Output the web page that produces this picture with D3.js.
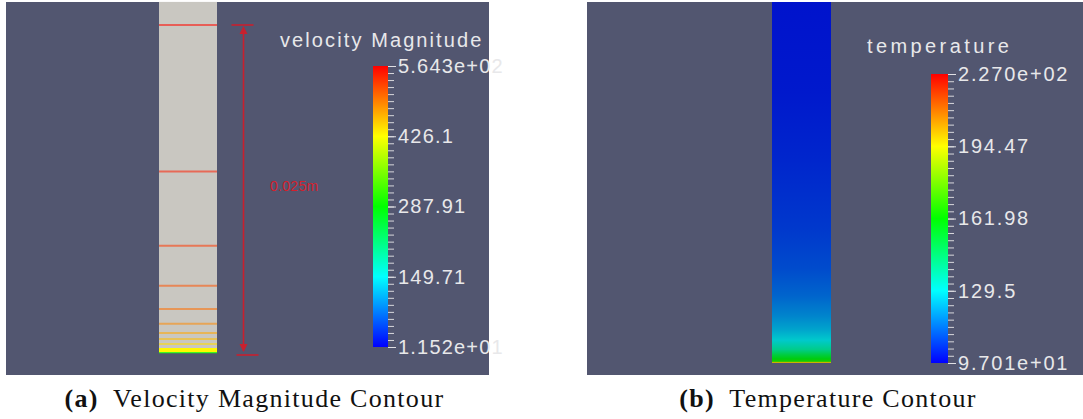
<!DOCTYPE html>
<html>
<head>
<meta charset="utf-8">
<script src="https://cdn.jsdelivr.net/npm/d3@7"></script>
<style>
  body { margin: 0; background: #ffffff; }
  svg { display: block; }
</style>
</head>
<body>
<svg id="fig" width="1083" height="419"></svg>
<script>
// ---------- velocity panel ----------
const velTitle = "velocity Magnitude";
const velRange = [11.52, 564.3];
const velTickValues = [564.3, 426.1, 287.91, 149.71, 11.52];
const velTickLabels = ["5.643e+02", "426.1", "287.91", "149.71", "1.152e+01"];

// iso-velocity contour lines: height above the outlet (m) and level (m/s)
const contourHeights = [0.025, 0.01384, 0.00818, 0.00512, 0.00336, 0.00222, 0.00153, 0.00107, 0.00069];
const contourLevels  = [560, 548, 535, 520, 505, 490, 475, 460, 445];

// outlet bands: upper/lower height (m) and velocity
const outletBandTop    = [0.00038, 0.00006];
const outletBandBottom = [0.00006, -0.00002];
const outletBandVel    = [430, 300];

const pipeLength = 0.02676;      // visible pipe length (m)
const dimensionLength = 0.025;   // marked distance (m)
const dimensionLabel = "0.025m";

// ---------- temperature panel ----------
const tempTitle = "temperature";
const tempRange = [97.01, 227.0];
const tempTickValues = [227.0, 194.47, 161.98, 129.5, 97.01];
const tempTickLabels = ["2.270e+02", "194.47", "161.98", "129.5", "9.701e+01"];

// temperature along the pipe: height above outlet (m) and value
const tempHeights = [0, 0.00006, 0.00012, 0.0003, 0.0006, 0.001, 0.0017, 0.0025, 0.0035, 0.005, 0.007, 0.010, 0.015, 0.020, 0.02676];
const tempValues  = [205, 195, 166, 160, 152, 140, 129, 123, 118, 113, 109, 106, 103, 101, 100];

const captionA = ["(a)", "Velocity Magnitude Contour"];
const captionB = ["(b)", "Temperature Contour"];

// ---------- helpers ----------
const svg = d3.select("#fig");
const BG = "#525670";
const TEXT = "#e8e8ea";
const RED = "#c8202e";

// blue -> cyan -> green -> yellow -> red (hue sweep 240 -> 0)
const rainbow = t => d3.hsl(240 * (1 - Math.max(0, Math.min(1, t))), 1, 0.5).rgb();
const shade = (c, k) => d3.rgb(c.r * k, c.g * k, c.b * k);

const defs = svg.append("defs");

function colorLegend(opts) {
  const { id, x, y0, y1, w, domain, tickValues, tickLabels, title, titleX, titleY, titleSpacing, labelSpacing } = opts;
  const s = d3.scaleLinear().domain(domain).range([y1, y0]);
  const norm = d3.scaleLinear().domain(domain).range([0, 1]);
  const g = defs.append("linearGradient").attr("id", id)
    .attr("gradientUnits", "userSpaceOnUse")
    .attr("x1", 0).attr("x2", 0).attr("y1", s(domain[0])).attr("y2", s(domain[1]));
  d3.range(0, 1.0001, 0.05).forEach(t => {
    g.append("stop").attr("offset", t).attr("stop-color", rainbow(t));
  });
  svg.append("rect").attr("x", x).attr("y", y0).attr("width", w).attr("height", y1 - y0)
    .attr("fill", `url(#${id})`);

  // minor ticks: ten per labelled interval
  const sorted = tickValues.slice().sort((a, b) => a - b);
  const minor = [];
  for (let i = 0; i < sorted.length - 1; i++) {
    for (let k = 0; k < 10; k++) minor.push(sorted[i] + (sorted[i + 1] - sorted[i]) * k / 10);
  }
  minor.push(sorted[sorted.length - 1]);
  const axis = d3.axisRight(s).tickValues(minor).tickSize(6).tickFormat("");
  const ag = svg.append("g").attr("transform", `translate(${x + w},0)`).call(axis);
  ag.select(".domain").remove();
  ag.selectAll("line").attr("stroke", "#d8d8dc").attr("stroke-width", 1);

  const lab = d3.axisRight(s).tickValues(tickValues).tickSize(8)
    .tickFormat((d, i) => tickLabels[i]).tickPadding(2);
  const lg = svg.append("g").attr("transform", `translate(${x + w},0)`).call(lab);
  lg.select(".domain").remove();
  lg.selectAll("line").attr("stroke", "#e0e0e4").attr("stroke-width", 1);
  lg.selectAll("text").attr("fill", TEXT)
    .attr("font-family", "'Liberation Sans', Arial, sans-serif")
    .attr("font-size", 20).attr("letter-spacing", labelSpacing);

  svg.append("text").attr("x", titleX).attr("y", titleY).text(title)
    .attr("fill", TEXT).attr("font-family", "'Liberation Sans', Arial, sans-serif")
    .attr("font-size", 20).attr("letter-spacing", titleSpacing);
  return norm;
}

// ---------- panel (a): velocity ----------
svg.append("rect").attr("x", 6).attr("y", 2).attr("width", 483).attr("height", 373).attr("fill", BG);

const yL = d3.scaleLinear().domain([0, dimensionLength]).range([353, 25]);
const pipeL = { x0: 159, x1: 217 };

svg.append("rect").attr("x", pipeL.x0).attr("y", yL(pipeLength))
  .attr("width", pipeL.x1 - pipeL.x0).attr("height", yL(0) - yL(pipeLength))
  .attr("fill", "#c9c7c1");

const velNorm = d3.scaleLinear().domain(velRange).range([0, 1]);

svg.append("g").selectAll("rect").data(outletBandVel).join("rect")
  .attr("x", pipeL.x0).attr("width", pipeL.x1 - pipeL.x0)
  .attr("y", (d, i) => yL(outletBandTop[i]))
  .attr("height", (d, i) => yL(outletBandBottom[i]) - yL(outletBandTop[i]))
  .attr("fill", d => rainbow(velNorm(d)));

svg.append("g").selectAll("line").data(contourHeights).join("line")
  .attr("x1", pipeL.x0).attr("x2", pipeL.x1)
  .attr("y1", d => yL(d)).attr("y2", d => yL(d))
  .attr("stroke", (d, i) => rainbow(velNorm(contourLevels[i])))
  .attr("stroke-opacity", 0.55).attr("stroke-width", 2);

// dimension marker
const dimX = 243.5;
const dim = svg.append("g").attr("fill", RED).attr("stroke", RED);
dim.append("line").attr("x1", dimX).attr("x2", dimX)
  .attr("y1", yL(dimensionLength) + 4).attr("y2", yL(0) - 2).attr("stroke-width", 1.6);
dim.append("line").attr("x1", dimX - 12).attr("x2", dimX + 10)
  .attr("y1", yL(dimensionLength)).attr("y2", yL(dimensionLength)).attr("stroke-width", 1.6);
dim.append("line").attr("x1", dimX - 7).attr("x2", dimX + 15)
  .attr("y1", yL(0) + 2).attr("y2", yL(0) + 2).attr("stroke-width", 1.6);
dim.append("path").attr("stroke", "none")
  .attr("d", `M${dimX},${yL(dimensionLength) + 1} l-4,8 l8,0 z`);
dim.append("path").attr("stroke", "none")
  .attr("d", `M${dimX},${yL(0) - 1} l-4,-8 l8,0 z`);
svg.append("text").attr("x", 270).attr("y", 191).text(dimensionLabel)
  .attr("fill", "#d4202c").attr("font-family", "'Liberation Sans', Arial, sans-serif")
  .attr("font-size", 14).attr("letter-spacing", 0.3);

colorLegend({
  id: "velGrad", x: 373, y0: 66, y1: 347, w: 15,
  domain: velRange, tickValues: velTickValues, tickLabels: velTickLabels,
  title: velTitle, titleX: 280, titleY: 47, titleSpacing: 2.1, labelSpacing: 1.2
});

// ---------- panel (b): temperature ----------
svg.append("rect").attr("x", 587).attr("y", 2).attr("width", 496).attr("height", 373).attr("fill", BG);

const yR = d3.scaleLinear().domain([0, pipeLength]).range([363, 2]);
const tempNorm = d3.scaleLinear().domain(tempRange).range([0, 1]);
const pg = defs.append("linearGradient").attr("id", "pipeTemp")
  .attr("gradientUnits", "userSpaceOnUse")
  .attr("x1", 0).attr("x2", 0).attr("y1", yR(0)).attr("y2", yR(pipeLength));
tempHeights.forEach((h, i) => {
  pg.append("stop").attr("offset", h / pipeLength)
    .attr("stop-color", shade(rainbow(tempNorm(tempValues[i])), 0.8));
});
svg.append("rect").attr("x", 772).attr("y", yR(pipeLength))
  .attr("width", 59).attr("height", yR(0) - yR(pipeLength))
  .attr("fill", "url(#pipeTemp)");

colorLegend({
  id: "tempGrad", x: 931, y0: 74, y1: 363, w: 17,
  domain: tempRange, tickValues: tempTickValues, tickLabels: tempTickLabels,
  title: tempTitle, titleX: 867, titleY: 53, titleSpacing: 3.4, labelSpacing: 1.8
});

// ---------- captions ----------
function caption(parts, cx) {
  const t = svg.append("text").attr("x", cx).attr("y", 407).attr("text-anchor", "middle")
    .attr("font-family", "'Liberation Serif', 'Times New Roman', serif")
    .attr("font-size", 26).attr("fill", "#111").attr("letter-spacing", 1.3);
  t.append("tspan").attr("font-weight", "bold").text(parts[0]);
  t.append("tspan").text("\u2002" + parts[1]);
}
caption(captionA, 254.5);
caption(captionB, 828);
</script>
</body>
</html>
